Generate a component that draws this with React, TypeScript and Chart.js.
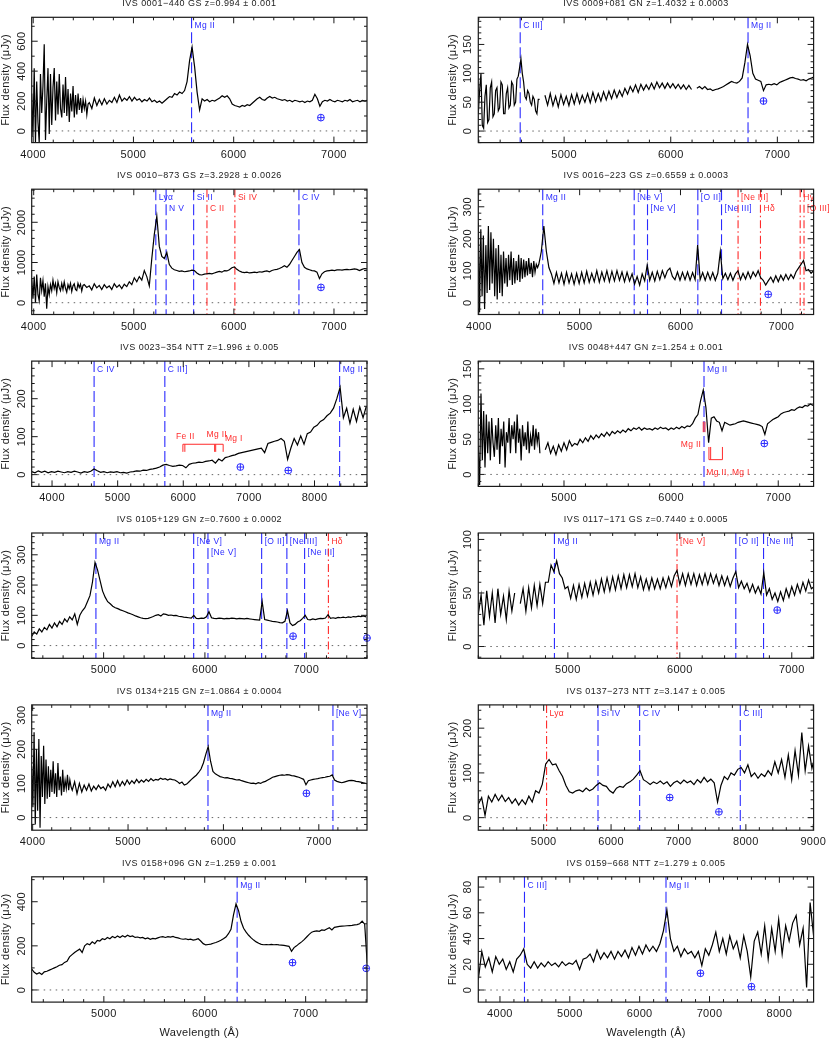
import React, { useEffect, useRef } from "react";
import { Chart, registerables } from "chart.js";

Chart.register(...registerables);

const PAGE_W = 830;
const PAGE_H = 1039;
const COL_LEFT = [31.7, 478.3];
const BOX_W = 335.3;
const ROW_TOP = [17.3, 189.2, 361.1, 533.0, 704.9, 876.8];
const BOX_H = 125.3;

const BLUE = "#2b2bff";
const RED = "#ff2b2b";
const INK = "#1a1a1a";
const FONT = "'Liberation Sans', Arial, sans-serif";
const X_TICKS = [1000, 200];

// ---------- Panel 1: IVS 0001-440
const P1_TITLE = "IVS 0001−440 GS z=0.994 ± 0.001";
const P1_XRANGE = [3985, 7330];
const P1_YRANGE = [-78, 760];
const P1_YTICKS = [200, 100];
const P1_BLUE_START = 3985;
const P1_BLUE_STEP = 12.5;
const P1_BLUE_FLUX = [250, -40, 420, -80, 330, 60, -80, 380, 120, 300, 580, -60, 200, 420, -20, 380, 40, 290, 420, 70,
  330, 110, 380, 150, 90, 310, 120, 360, 100, 280, 60, 250, 130, 300, 90, 240, 110, 250, 140, 220,
  120, 210, 150, 200, 110, 180];
const P1_START = 4560;
const P1_STEP = 25;
const P1_FLUX = [190, 150, 220, 170, 210, 175, 215, 180, 205, 190, 225, 190, 240, 200, 220, 205, 230,
  200, 225, 205, 215, 195, 210, 200, 220, 195, 205, 190, 200, 185, 200, 215, 230, 225, 250, 240, 260,
  250, 270, 330, 470, 560, 430, 260, 140, 215, 200, 210, 195, 205, 200, 210, 220, 235, 225, 235, 215,
  180, 170, 165, 160, 170, 165, 175, 170, 185, 200, 215, 225, 210, 205, 220, 230, 220, 225, 215, 210,
  205, 210, 200, 205, 195, 205, 200, 195, 200, 190, 200, 195, 205, 245, 215, 165, 195, 205, 200, 210,
  200, 195, 205, 200, 195, 205, 200, 210, 195, 200, 205, 195, 205, 200, 205];
const P1_LINES = [[5580, "Mg II", "b", 1]];
const P1_EARTH = [[6870, 89]];

// ---------- Panel 2: IVS 0009+081
const P2_TITLE = "IVS 0009+081 GN z=1.4032 ± 0.0003";
const P2_XRANGE = [4195, 7340];
const P2_YRANGE = [-20, 197];
const P2_YTICKS = [50, 10];
const P2_BLUE_START = 4195;
const P2_BLUE_STEP = 12.5;
const P2_BLUE_FLUX = [30, 70, 100, 10, 5, 60, 80, 15, 20, 75, 85, 25, 30, 70, 75, 35, 40, 85, 80, 30,
  30, 65, 75, 40, 45, 85, 80, 45, 50, 90, 95, 110, 125, 100, 85, 60, 55, 70, 65, 50,
  45, 60, 55, 35, 30, 55, 55];
const P2_START = 4795;
const P2_STEP = 25;
const P2_FLUX = [null, 62, 45, 65, 44, 60, 42, 63, 46, 60, 44, 63, 47, 65, 48, 62, 50, 65, 49, 67,
  51, 65, 52, 68, 54, 69, 56, 71, 58, 70, 60, 74, 64, 77, 68, 80, 67, 81, 71, 80,
  72, 83, 73, 85, 75, 83, 74, 83, 75, 82, 74, 81, 73, 80, 72, 79, 72, null, 74, 77,
  73, 77, 72, 73, 70,
  72, 73, 75, 77, 80, 83, 86, 84, 83, 86, 92, 118, 150, 130, 100, 90, 88, 86, 70, 80,
  81, 80, 82, 80, 84, 86, 88, 90, 92, 93, 91, 90, 88, 89, 87, 90, 92, 94];
const P2_LINES = [[4588, "C III]", "b", 1], [6725, "Mg II", "b", 1]];
const P2_EARTH = [[6870, 52]];

// ---------- Panel 3: IVS 0010-873
const P3_TITLE = "IVS 0010−873 GS z=3.2928 ± 0.0026";
const P3_XRANGE = [3980, 7330];
const P3_YRANGE = [-293, 2823];
const P3_YTICKS = [1000, 200];
const P3_BLUE_START = 3980;
const P3_BLUE_STEP = 12.5;
const P3_BLUE_FLUX = [600, 100, 650, 0, 700, 200, 50, 620, 300, 550, 150, 480, -150, 400, 200, 450, 300, 560, 350, 480,
  250, 520, 380, 300, 480, 330, 520, 360, 260, 450, 350, 480, 280, 420, 470, 330, 300, 480, 380, 460,
  290, 430];
const P3_START = 4505;
const P3_STEP = 25;
const P3_FLUX = [450, 380, 420, 320, 470, 370, 430, 330, 450, 370, 420, 330, 470, 380, 440, 350, 460, 400, 520,
  450, 620, 520, 650, 560, 800, 650, 420, 1100, 1700, 2150, 1400, 1150, 1100, 1250, 950, 860, 820, 800, 780,
  790, 770, 780, 790, 810, 800, 740, 700, 690, 710, 720, 730, 720, 740, 760, 780, 760, 800, 790, 820,
  870, 890, 830, 790, 760, 750, 760, 740, 750, 760, 750, 770, 760, 780, 790, 770, 800, 820, 830, 850,
  880, 920, 880, 950, 1050, 1150, 1250, 1320, 1000, 880, 840, 820, 800, 790, 760, 600, 720, 770, 790, 800,
  810, 800, 815, 820, 810, 825, 830, 820, 830, 840, 830, 800, 830, 850, 840];
const P3_LINES = [[5220, "Lyα", "b", 1], [5323, "N V", "b", 2], [5598, "Si II", "b", 1], [5731, "C II", "r", 2], [6010, "Si IV", "r", 1], [6650, "C IV", "b", 1]];
const P3_EARTH = [[6870, 381]];

// ---------- Panel 4: IVS 0016-223
const P4_TITLE = "IVS 0016−223 GS z=0.6559 ± 0.0003";
const P4_XRANGE = [3995, 7320];
const P4_YRANGE = [-37, 355];
const P4_YTICKS = [100, 20];
const P4_BLUE_START = 3995;
const P4_BLUE_STEP = 12.5;
const P4_BLUE_FLUX = [250, -30, 230, 20, 210, -20, 180, 30, 240, 40, 220, 60, 200, 20, 170, 10, 180, 30, 150, 20,
  160, 60, 140, 50, 150, 70, 160, 55, 140, 60, 130, 70, 150, 65, 140, 75, 135, 80, 130, 85,
  140, 90, 125, 80, 130, 95, 120, 110];
const P4_START = 4595;
const P4_STEP = 25;
const P4_FLUX = [120, 160, 240, 160, 110, 90, 60, 95, 62, 92, 58, 95, 62, 90, 58, 92, 60, 95, 62, 98,
  64, 92, 66, 100, 64, 96, 68, 100, 66, 98, 68, 100, 70, 96, 66, 95, 68, 90, 58, 82,
  55, 90, 68, 118, 70, 95, 68, 98, 72, 100, 78, 100, 108, 82, 72, 96, 70, 95, 72, 96,
  70, 94, 72, 180, 72, 94, 70, 95, 72, 94, 70, 92, 160, 75, 92, 72, 92, 70, 90, 100,
  72, 92, 74, 96, 76, 96, 82, 100, 78, 70, 55, 68, 80, 64, 84, 66, 86, 70, 88, 72,
  88, 76, 96, 108, 120, 132, 100, 104, 92, 100];
const P4_LINES = [[4634, "Mg II", "b", 1], [5541, "[Ne V]", "b", 1], [5673, "[Ne V]", "b", 2], [6172, "[O II]", "b", 1], [6407, "[Ne III]", "b", 2], [6571, "[Ne III]", "r", 1], [6793, "Hδ", "r", 2], [7187, "Hγ", "r", 1], [7225, "[O III]", "r", 2]];
const P4_EARTH = [[6870, 26]];

// ---------- Panel 5: IVS 0023-354
const P5_TITLE = "IVS 0023−354 NTT z=1.996 ± 0.005";
const P5_XRANGE = [3690, 8800];
const P5_YRANGE = [-31, 299];
const P5_YTICKS = [100, 20];
const P5_START = 3690;
const P5_STEP = 50;
const P5_FLUX = [8, 5, 10, 6, 9, 5, 8, 6, 9, 7, 5, 8, 6, 9, 7, 4, 8, 6, 9, 15,
  10, 6, 8, 5, 7, 6, 8, 5, 6, 4, 7, 8, 10, 9, 12, 11, 14, 15, 17, 20,
  25, 27, 24, 22, 23, 25, 24, 18, 27, 30, 31, 33, 32, 35, 36, 38, 30, 41, 36, 45,
  47, 50, 52, 56, 58, 60, 62, 64, 66, 68, 70, 58, 82, 85, 88, 90, 95, 88, 40, 70,
  95, 78, 102, 80, 108, 112, 125, 130, 140, 145, 155, 162, 175, 200, 230, 150, 175, 135, 172, 140,
  178, 150, 180];
const P5_LINES = [[4641, "C IV", "b", 1], [5719, "C III]", "b", 1], [8383, "Mg II", "b", 1]];
const P5_EARTH = [[6870, 20], [7600, 11]];
const P5_ABS_TICKS = [5994, 6024, 6478, 6494, 6608];
const P5_ABS_BAR = [80, 60];
const P5_ABS_LABELS = [[5890, 99, "Fe II", "left"], [6355, 105, "Mg II", "left"], [6635, 96, "Mg I", "left"]];

// ---------- Panel 6: IVS 0048+447
const P6_TITLE = "IVS 0048+447 GN z=1.254 ± 0.001";
const P6_XRANGE = [4200, 7330];
const P6_YRANGE = [-17, 161];
const P6_YTICKS = [50, 10];
const P6_BLUE_START = 4200;
const P6_BLUE_STEP = 12.5;
const P6_BLUE_FLUX = [40, -15, 115, 20, 90, 10, 85, 30, 75, 20, 80, 45, 25, 70, 35, 80, 15, 65, 40, 75,
  10, 60, 45, 80, 30, 70, 50, 75, 30, 85, 45, 65, 20, 70, 40, 60, 35, 75, 30, 55,
  40, 70, 35, 65, 45, 60, 30];
const P6_START = 4800;
const P6_STEP = 25;
const P6_FLUX = [null, 35, 45, 30, 40, 28, 42, 33, 45, 35, 48, 40, 44, 42, 50, 45,
  52, 47, 55, 50, 56, 52, 58, 54, 60, 55, 61, 58, 62, 59, 63, 60, 65, 62, 66, 64,
  67, 63, 66, 64, 65, 63, 66, 64, 67, 65, 66, 63, 66, 64, 67, 65, 68, 66, 69, 68,
  72, 80, 85, 105, 120, 95, 45, 80, 82, 76, 74, 62, 74, 72, 70, 71, 72, 74, 75, 76,
  75, 74, 73, 72, 71, 70, 68, 57, 72, 75, 78, 80, 82, 86, 88, 89, 90, 92, 91, 94,
  96, 95, 98, 97, 100, 98];
const P6_LINES = [[6307, "Mg II", "b", 1]];
const P6_EARTH = [[6870, 44]];
const P6_ABS1_TICKS = [6300, 6316];
const P6_ABS1_BAR = [75, 60];
const P6_ABS2_TICKS = [6353, 6369, 6479];
const P6_ABS2_BAR = [21, 39];
const P6_ABS_LABELS = [[6281, 42, "Mg II", "right"], [6328, 2, "Mg II, Mg I", "left"]];

// ---------- Panel 7: IVS 0105+129
const P7_TITLE = "IVS 0105+129 GN z=0.7600 ± 0.0002";
const P7_XRANGE = [4290, 7600];
const P7_YRANGE = [-42, 372];
const P7_YTICKS = [100, 20];
const P7_START = 4290;
const P7_STEP = 25;
const P7_FLUX = [30, 45, 38, 55, 45, 60, 52, 70, 58, 75, 62, 80, 70, 88, 78, 95, 85, 105, 70, 100,
  115, 125, 145, 165, 210, 275, 250, 215, 180, 160, 145, 138, 130, 125, 122, 118, 115, 112, 108, 105,
  102, 98, 95, 92, 90, 89, 90, 93, 96, 100, 102, 98, 105, 103, 100, 101, 99, 100, 97, 96,
  94, 93, 92, 91, 100, 90, 89, 91, 90, 95, 112, 92, 90, 89, 91, 90, 88, 90, 89, 91,
  90, 88, 90, 89, 88, 90, 88, 87, 86, 85, 84, 145, 86, 84, 82, 80, 79, 78, 76, 75,
  80, 115, 75, 66, 70, 78, 82, 90, 100, 86, 85, 88, 86, 88, 90, 89, 91, 102, 90, 92,
  90, 93, 92, 94, 92, 95, 93, 96, 95, 97, 96, 98, 95];
const P7_LINES = [[4924, "Mg II", "b", 1], [5889, "[Ne V]", "b", 1], [6030, "[Ne V]", "b", 2], [6560, "[O II]", "b", 1], [6809, "[Ne III]", "b", 1], [6984, "[Ne III]", "b", 2], [7219, "Hδ", "r", 1]];
const P7_EARTH = [[6870, 31], [7600, 25]];

// ---------- Panel 8: IVS 0117-171
const P8_TITLE = "IVS 0117−171 GS z=0.7440 ± 0.0005";
const P8_XRANGE = [4200, 7195];
const P8_YRANGE = [-11, 106];
const P8_YTICKS = [50, 10];
const P8_START = 4200;
const P8_STEP = 25;
const P8_FLUX = [30, 48, 20, 52, 28, 50, 22, 54, 30, 47, 25, 52, 33, 50, null, 40, 54, 33, 55, 36,
  57, 38, 58, 40, 60, 60, 76, 70, 80, 68, 64, 54, 56, 45, 57, 44, 58, 46, 59, 47,
  60, 48, 61, 50, 63, 51, 64, 52, 65, 53, 66, 54, 67, 55, 67, 56, 68, 55, 65, 53,
  63, 53, 64, 54, 63, 54, 64, 55, 65, 56, 66, 71, 58, 68, 57, 68, 58, 68, 57, 67,
  58, 68, 58, 68, 59, 67, 57, 66, 57, 65, 56, 64, 70, 55, 61, 54, 59, 51, 58, 50,
  56, 49, 69, 48, 54, 44, 50, 42, 51, 43, 54, 46, 56, 48, 58, 50, 60, 52, 62, 54,
  56];
const P8_LINES = [[4880, "Mg II", "b", 1], [5975, "[Ne V]", "r", 1], [6500, "[O II]", "b", 1], [6748, "[Ne III]", "b", 1]];
const P8_EARTH = [[6870, 34]];

// ---------- Panel 9: IVS 0134+215
const P9_TITLE = "IVS 0134+215 GN z=1.0864 ± 0.0004";
const P9_XRANGE = [3990, 7505];
const P9_YRANGE = [-37, 330];
const P9_YTICKS = [100, 20];
const P9_BLUE_START = 3990;
const P9_BLUE_STEP = 12.5;
const P9_BLUE_FLUX = [150, 30, 250, -20, 200, 20, 230, -30, 180, 60, 210, 40, 170, 55, 150, 60, 140, 75, 165, 70,
  130, 60, 160, 80, 120, 65, 140, 75, 110, 85, 125, 80, 110, 90];
const P9_START = 4415;
const P9_STEP = 25;
const P9_FLUX = [80, 105, 70,
  100, 75, 95, 80, 98, 78, 92, 82, 95, 85, 90, 80, 98, 88, 105, 90, 108, 92, 106, 95,
  110, 98, 108, 100, 112, 102, 110, 104, 112, 106, 114, 108, 112, 110, 115, 112, 114, 110, 113, 111,
  110, 106, 100, 104, 95, 98, 105, 112, 118, 124, 132, 142, 160, 185, 208, 165, 135, 128, 124, 120,
  118, 116, 117, 115, 114, 112, 110, 111, 108, 106, 104, 102, 100, 101, 99, 102, 100, 104, 106, 110,
  114, 118, 120, 122, 124, 125, 124, 126, 125, 123, 122, 120, 118, 115, 112, 96, 108, 110, 112, 113,
  114, 116, 117, 118, 120, 121, 125, 110, 106, 104, 102, 104, 106, 108, 109, 108, 106, 105, 104, 102,
  100, 99];
const P9_LINES = [[5838, "Mg II", "b", 1], [7148, "[Ne V]", "b", 1]];
const P9_EARTH = [[6870, 71]];

// ---------- Panel 10: IVS 0137-273
const P10_TITLE = "IVS 0137−273 NTT z=3.147 ± 0.005";
const P10_XRANGE = [4030, 9005];
const P10_YRANGE = [-28, 252];
const P10_YTICKS = [100, 20];
const P10_START = 4030;
const P10_STEP = 50;
const P10_FLUX = [30, 45, 5, 48, 35, 52, 38, 50, 36, 45, 32, 42, 28, 40, 30, 48, 35, 60, 55, 75,
  120, 130, 118, 120, 105, 92, 72, 58, 55, 60, 62, 58, 66, 60, 64, 72, 78, 72, 70, 60,
  55, 66, 70, 68, 76, 80, 86, 95, 105, 85, 80, 74, 80, 76, 82, 75, 80, 70, 78, 82,
  76, 84, 78, 82, 74, 85, 78, 90, 80, 86, 78, 35, 72, 92, 85, 100, 95, 108, 112, 100,
  118, 92, 100, 88, 98, 92, 105, 95, 125, 100, 130, 90, 140, 85, 150, 95, 190, 105, 160, 110,
  140];
const P10_LINES = [[5043, "Lyα", "r", 1], [5806, "Si IV", "b", 1], [6424, "C IV", "b", 1], [7917, "C III]", "b", 1]];
const P10_EARTH = [[6870, 45], [7600, 13]];

// ---------- Panel 11: IVS 0158+096
const P11_TITLE = "IVS 0158+096 GN z=1.259 ± 0.001";
const P11_XRANGE = [4285, 7608];
const P11_YRANGE = [-55, 513];
const P11_YTICKS = [200, 100];
const P11_START = 4285;
const P11_STEP = 25;
const P11_FLUX = [95, 80, 72, 78, 70, 82, 85, 90, 95, 100, 105, 112, 115, 125, 130, 150, 160, 170, 178, 185,
  170, 200, 210, 205, 218, 210, 225, 222, 232, 228, 238, 232, 242, 236, 245, 238, 246, 240, 248, 242,
  245, 238, 240, 236, 238, 232, 236, 230, 234, 232, 236, 240, 242, 238, 242, 240, 243, 238, 236, 232,
  230, 232, 228, 230, 226, 228, 232, 222, 210, 204, 206, 208, 212, 215, 220, 225, 232, 240, 255, 275,
  340, 390, 360, 310, 280, 262, 248, 236, 226, 218, 212, 207, 205, 206, 205, 207, 205, 206, 204, 203,
  202, 200, 198, 175, 192, 200, 210, 218, 228, 240, 252, 262, 266, 268, 266, 272, 270, 276, 282, 272,
  284, 286, 288, 289, 290, 291, 292, 293, 295, 296, 300, 312, 298, 120];
const P11_LINES = [[6321, "Mg II", "b", 1]];
const P11_EARTH = [[6870, 124], [7600, 98]];

// ---------- Panel 12: IVS 0159-668
const P12_TITLE = "IVS 0159−668 NTT z=1.279 ± 0.005";
const P12_XRANGE = [3690, 8490];
const P12_YRANGE = [-9.4, 88];
const P12_YTICKS = [20, 10];
const P12_START = 3690;
const P12_STEP = 50;
const P12_FLUX = [8, 30, 18, 25, 14, 26, 20, 24, 16, 22, 14, 24, 27, 32, 20, 17, 22, 17, 21, 18,
  22, 19, 21, 18, 22, 19, 21, 20, 23, 16, 24, 25, 28, 22, 31, 24, 29, 25, 30, 24,
  30, 26, 31, 25, 33, 27, 34, 28, 35, 30, 34, 30, 36, 46, 62, 40, 30, 34, 26, 32,
  28, 30, 25, 30, 19, 32, 27, 35, 45, 30, 40, 28, 42, 32, 38, 25, 42, 30, 10, 38,
  45, 28, 50, 24, 48, 30, 55, 28, 50, 38, 52, 58, 35, 48, 2, 68, 42];
const P12_LINES = [[4351, "C III]", "b", 1], [6377, "Mg II", "b", 1]];
const P12_EARTH = [[6870, 13], [7600, 2.6]];

type Seg = [number, number, (number | null)[]];
type Panel = {
  title: string; col: number; row: number; xr: number[]; yr: number[]; yt: number[];
  segs: Seg[]; lines: any[]; earth: number[][];
  abs?: { ticks: number[]; bar: number[] }[]; absLabels?: any[]; xlabel?: boolean;
};

const PANELS: Panel[] = [
  { title: P1_TITLE, col: 0, row: 0, xr: P1_XRANGE, yr: P1_YRANGE, yt: P1_YTICKS,
    segs: [[P1_BLUE_START, P1_BLUE_STEP, P1_BLUE_FLUX], [P1_START, P1_STEP, P1_FLUX]], lines: P1_LINES, earth: P1_EARTH },
  { title: P2_TITLE, col: 1, row: 0, xr: P2_XRANGE, yr: P2_YRANGE, yt: P2_YTICKS,
    segs: [[P2_BLUE_START, P2_BLUE_STEP, P2_BLUE_FLUX], [P2_START, P2_STEP, P2_FLUX]], lines: P2_LINES, earth: P2_EARTH },
  { title: P3_TITLE, col: 0, row: 1, xr: P3_XRANGE, yr: P3_YRANGE, yt: P3_YTICKS,
    segs: [[P3_BLUE_START, P3_BLUE_STEP, P3_BLUE_FLUX], [P3_START, P3_STEP, P3_FLUX]], lines: P3_LINES, earth: P3_EARTH },
  { title: P4_TITLE, col: 1, row: 1, xr: P4_XRANGE, yr: P4_YRANGE, yt: P4_YTICKS,
    segs: [[P4_BLUE_START, P4_BLUE_STEP, P4_BLUE_FLUX], [P4_START, P4_STEP, P4_FLUX]], lines: P4_LINES, earth: P4_EARTH },
  { title: P5_TITLE, col: 0, row: 2, xr: P5_XRANGE, yr: P5_YRANGE, yt: P5_YTICKS,
    segs: [[P5_START, P5_STEP, P5_FLUX]], lines: P5_LINES, earth: P5_EARTH,
    abs: [{ ticks: P5_ABS_TICKS, bar: P5_ABS_BAR }], absLabels: P5_ABS_LABELS },
  { title: P6_TITLE, col: 1, row: 2, xr: P6_XRANGE, yr: P6_YRANGE, yt: P6_YTICKS,
    segs: [[P6_BLUE_START, P6_BLUE_STEP, P6_BLUE_FLUX], [P6_START, P6_STEP, P6_FLUX]], lines: P6_LINES, earth: P6_EARTH,
    abs: [{ ticks: P6_ABS1_TICKS, bar: P6_ABS1_BAR }, { ticks: P6_ABS2_TICKS, bar: P6_ABS2_BAR }], absLabels: P6_ABS_LABELS },
  { title: P7_TITLE, col: 0, row: 3, xr: P7_XRANGE, yr: P7_YRANGE, yt: P7_YTICKS,
    segs: [[P7_START, P7_STEP, P7_FLUX]], lines: P7_LINES, earth: P7_EARTH },
  { title: P8_TITLE, col: 1, row: 3, xr: P8_XRANGE, yr: P8_YRANGE, yt: P8_YTICKS,
    segs: [[P8_START, P8_STEP, P8_FLUX]], lines: P8_LINES, earth: P8_EARTH },
  { title: P9_TITLE, col: 0, row: 4, xr: P9_XRANGE, yr: P9_YRANGE, yt: P9_YTICKS,
    segs: [[P9_BLUE_START, P9_BLUE_STEP, P9_BLUE_FLUX], [P9_START, P9_STEP, P9_FLUX]], lines: P9_LINES, earth: P9_EARTH },
  { title: P10_TITLE, col: 1, row: 4, xr: P10_XRANGE, yr: P10_YRANGE, yt: P10_YTICKS,
    segs: [[P10_START, P10_STEP, P10_FLUX]], lines: P10_LINES, earth: P10_EARTH },
  { title: P11_TITLE, col: 0, row: 5, xr: P11_XRANGE, yr: P11_YRANGE, yt: P11_YTICKS,
    segs: [[P11_START, P11_STEP, P11_FLUX]], lines: P11_LINES, earth: P11_EARTH, xlabel: true },
  { title: P12_TITLE, col: 1, row: 5, xr: P12_XRANGE, yr: P12_YRANGE, yt: P12_YTICKS,
    segs: [[P12_START, P12_STEP, P12_FLUX]], lines: P12_LINES, earth: P12_EARTH, xlabel: true },
];

function tickValues(min: number, max: number, step: number) {
  const out: number[] = [];
  for (let v = Math.ceil(min / step - 1e-9) * step; v <= max + 1e-9; v += step) out.push(Math.round(v * 1000) / 1000);
  return out;
}
const isMajor = (v: number, major: number) => Math.abs(v / major - Math.round(v / major)) < 1e-6;

function spaced(ctx: any, px: number) {
  try { ctx.letterSpacing = px + "px"; } catch (e) { /* ignore */ }
}

function makePlugin(p: Panel) {
  return {
    id: "pgplot",
    beforeDatasetsDraw(chart: any) {
      const { ctx, chartArea: a } = chart;
      const x = chart.scales.x, y = chart.scales.y;
      ctx.save();
      const y0 = y.getPixelForValue(0);
      ctx.strokeStyle = "#666";
      ctx.lineWidth = 1;
      ctx.setLineDash([1.5, 4.5]);
      ctx.beginPath();
      ctx.moveTo(a.left, y0);
      ctx.lineTo(a.right, y0);
      ctx.stroke();
      for (const [w, label, c, row] of p.lines) {
        const px = x.getPixelForValue(w);
        const col = c === "r" ? RED : BLUE;
        ctx.strokeStyle = col;
        ctx.lineWidth = 1.1;
        ctx.setLineDash(c === "r" ? [8, 3, 1.5, 3] : [11, 4]);
        ctx.beginPath();
        ctx.moveTo(px, a.top);
        ctx.lineTo(px, a.bottom);
        ctx.stroke();
        ctx.setLineDash([]);
        ctx.fillStyle = col;
        ctx.font = `8.5px ${FONT}`;
        spaced(ctx, 0.3);
        ctx.textAlign = "left";
        ctx.textBaseline = "middle";
        ctx.fillText(label, px + 3, a.top + (row === 1 ? 8.7 : 19.5));
      }
      ctx.restore();
    },
    afterDatasetsDraw(chart: any) {
      const { ctx, chartArea: a } = chart;
      const x = chart.scales.x, y = chart.scales.y;
      ctx.save();
      ctx.strokeStyle = BLUE;
      ctx.lineWidth = 1;
      for (const [w, v] of p.earth) {
        const cx = x.getPixelForValue(w), cy = y.getPixelForValue(v);
        ctx.beginPath();
        ctx.arc(cx, cy, 3.4, 0, Math.PI * 2);
        ctx.moveTo(cx - 3.4, cy);
        ctx.lineTo(cx + 3.4, cy);
        ctx.moveTo(cx, cy - 3.4);
        ctx.lineTo(cx, cy + 3.4);
        ctx.stroke();
      }
      if (p.abs) {
        ctx.strokeStyle = RED;
        ctx.lineWidth = 1;
        for (const g of p.abs) {
          const yb = y.getPixelForValue(g.bar[0]);
          const ye = y.getPixelForValue(g.bar[1]);
          ctx.beginPath();
          if (g.ticks.length > 2) {
            ctx.moveTo(x.getPixelForValue(g.ticks[0]), yb);
            ctx.lineTo(x.getPixelForValue(g.ticks[g.ticks.length - 1]), yb);
          }
          for (const t of g.ticks) {
            const px = x.getPixelForValue(t);
            ctx.moveTo(px, yb);
            ctx.lineTo(px, ye);
          }
          ctx.stroke();
        }
      }
      if (p.absLabels) {
        ctx.fillStyle = RED;
        ctx.font = `8.5px ${FONT}`;
        spaced(ctx, 0.3);
        ctx.textBaseline = "middle";
        for (const [w, v, text, align] of p.absLabels) {
          ctx.textAlign = align;
          ctx.fillText(text, x.getPixelForValue(w), y.getPixelForValue(v));
        }
      }
      ctx.strokeStyle = INK;
      ctx.lineWidth = 1.2;
      ctx.strokeRect(a.left, a.top, a.right - a.left, a.bottom - a.top);
      ctx.lineWidth = 1;
      ctx.beginPath();
      for (const v of tickValues(p.xr[0], p.xr[1], X_TICKS[1])) {
        const px = x.getPixelForValue(v);
        const len = isMajor(v, X_TICKS[0]) ? 6 : 3;
        ctx.moveTo(px, a.bottom); ctx.lineTo(px, a.bottom - len);
        ctx.moveTo(px, a.top); ctx.lineTo(px, a.top + len);
      }
      for (const v of tickValues(p.yr[0], p.yr[1], p.yt[1])) {
        const py = y.getPixelForValue(v);
        const len = isMajor(v, p.yt[0]) ? 6 : 3;
        ctx.moveTo(a.left, py); ctx.lineTo(a.left + len, py);
        ctx.moveTo(a.right, py); ctx.lineTo(a.right - len, py);
      }
      ctx.stroke();
      ctx.fillStyle = INK;
      ctx.font = `11px ${FONT}`;
      spaced(ctx, 0.3);
      ctx.textAlign = "center";
      ctx.textBaseline = "middle";
      for (const v of tickValues(p.xr[0], p.xr[1], X_TICKS[0])) {
        ctx.fillText(String(v), x.getPixelForValue(v), a.bottom + 12);
      }
      for (const v of tickValues(p.yr[0], p.yr[1], p.yt[0])) {
        ctx.save();
        ctx.translate(a.left - 10, y.getPixelForValue(v));
        ctx.rotate(-Math.PI / 2);
        ctx.fillText(String(v), 0, 0);
        ctx.restore();
      }
      ctx.save();
      ctx.translate(a.left - 25.5, (a.top + a.bottom) / 2);
      ctx.rotate(-Math.PI / 2);
      ctx.fillText("Flux density (μJy)", 0, 0);
      ctx.restore();
      if (p.xlabel) {
        ctx.fillText("Wavelength (Å)", (a.left + a.right) / 2, a.bottom + 30.6);
      }
      ctx.font = `9px ${FONT}`;
      spaced(ctx, 0.45);
      ctx.fillText(p.title, (a.left + a.right) / 2, a.top - 13.3);
      ctx.restore();
    },
  };
}

function SpectrumPanel({ p }: { p: Panel }) {
  const ref = useRef<HTMLCanvasElement>(null);
  useEffect(() => {
    const left = COL_LEFT[p.col];
    const top = ROW_TOP[p.row];
    const points: { x: number; y: number | null }[] = [];
    for (const [start, step, flux] of p.segs) {
      flux.forEach((f, i) => points.push({ x: start + i * step, y: f }));
    }
    const chart = new Chart(ref.current as HTMLCanvasElement, {
      type: "line",
      data: {
        datasets: [
          {
            data: points as any,
            borderColor: "#000",
            borderWidth: 1.2,
            pointRadius: 0,
            tension: 0,
            spanGaps: false,
            clip: 0 as any,
          },
        ],
      },
      options: {
        responsive: false,
        animation: false,
        events: [],
        layout: { padding: { left, top, right: PAGE_W - left - BOX_W, bottom: PAGE_H - top - BOX_H } },
        scales: {
          x: { type: "linear", min: p.xr[0], max: p.xr[1], display: false },
          y: { type: "linear", min: p.yr[0], max: p.yr[1], display: false },
        },
        plugins: { legend: { display: false }, tooltip: { enabled: false } },
      },
      plugins: [makePlugin(p) as any],
    });
    return () => chart.destroy();
  }, []);
  return (
    <canvas
      ref={ref}
      width={PAGE_W}
      height={PAGE_H}
      style={{ position: "absolute", left: 0, top: 0, width: PAGE_W, height: PAGE_H }}
    />
  );
}

export default function App() {
  return (
    <div style={{ position: "absolute", left: 0, top: 0, width: PAGE_W, height: PAGE_H, background: "#fff", overflow: "hidden" }}>
      {PANELS.map((p, i) => (
        <SpectrumPanel key={i} p={p} />
      ))}
    </div>
  );
}
